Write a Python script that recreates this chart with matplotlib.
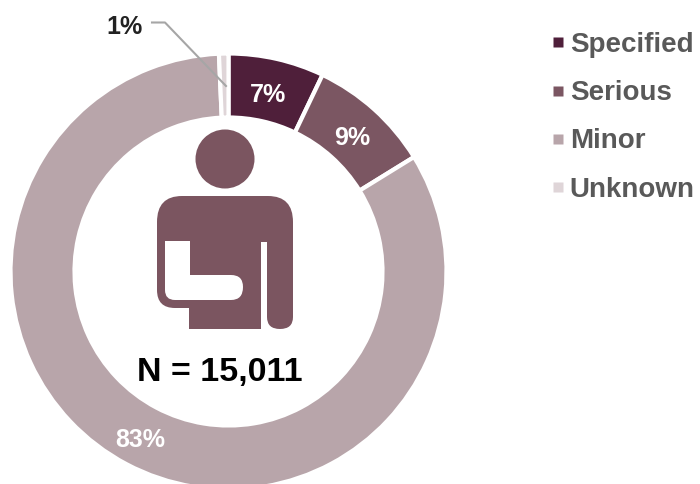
import matplotlib
matplotlib.use("Agg")
import matplotlib.pyplot as plt
from matplotlib.lines import Line2D
from matplotlib.patches import Circle, PathPatch, Rectangle
from matplotlib.path import Path

plt.rcParams["font.family"] = ["Liberation Sans", "DejaVu Sans"]

categories = ["Specified", "Serious", "Minor", "Unknown"]
values = [7.1, 9.1, 83.1, 0.7]
value_labels = ["7%", "9%", "83%", "1%"]
colors = ["#4f1f3a", "#7b5662", "#b8a5aa", "#dfd5d8"]
total_label = "N = 15,011"

fig = plt.figure(figsize=(7, 4.84), dpi=100)
ax = fig.add_axes([0, 0, 1, 1])

# axes in image pixels, y pointing down, so angles run clockwise
wedges, _ = ax.pie(values, colors=colors, center=(228.5, 271.5), radius=218,
                   startangle=-90, counterclock=True, frame=True,
                   wedgeprops=dict(width=64, edgecolor="white", linewidth=3))
ax.set_xlim(0, 700)
ax.set_ylim(484, 0)
ax.set_aspect("equal")
ax.axis("off")

# value labels
label_pos = [(268, 95), (352, 138), (140, 440)]
for lab, (x, y) in zip(value_labels[:3], label_pos):
    ax.text(x, y, lab, color="white", fontsize=18, fontweight="bold",
            ha="center", va="center")
ax.text(124, 27, value_labels[3], color="#222222", fontsize=18, fontweight="bold",
        ha="center", va="center")
ax.plot([152, 165, 226], [22.5, 22.5, 86], color="#a6a6a6", lw=1.5, zorder=5)

# person icon
body_color = "#7b5560"
ax.add_patch(Circle((225, 159), 29.5, color=body_color, lw=0))
M, L, C = Path.MOVETO, Path.LINETO, Path.CURVE3
body = Path(
    [(182, 196), (268, 196), (293, 196), (293, 222), (293, 317), (293, 329), (280, 329),
     (267, 329), (267, 317), (267, 329), (189, 329), (189, 308), (175, 308), (157, 308),
     (157, 290), (157, 222), (157, 196), (182, 196), (182, 196)],
    [M, L, C, C, L, C, C, C, C, L, L, L, L, C, C, L, C, C, L],
)
ax.add_patch(PathPatch(body, facecolor=body_color, edgecolor="none"))
arm = Path(
    [(165, 241), (190, 241), (190, 275), (231, 275), (243, 275), (243, 287), (243, 300),
     (231, 300), (175, 300), (165, 300), (165, 290), (165, 241)],
    [M, L, L, L, C, C, C, C, L, C, C, L],
)
ax.add_patch(PathPatch(arm, facecolor="white", edgecolor="none"))
ax.add_patch(Rectangle((260.5, 242), 6.5, 88, facecolor="white", edgecolor="none"))

ax.text(220, 372, total_label, color="black", fontsize=24.5, fontweight="bold",
        ha="center", va="center")

# legend
handles = [Line2D([], [], linestyle="none", marker="s", markersize=7,
                  markerfacecolor=c, markeredgecolor="none") for c in colors]
leg = ax.legend(handles, categories, loc="upper left", bbox_to_anchor=(544, 32),
                bbox_transform=ax.transData, frameon=False, fontsize=20,
                labelcolor="#595959", labelspacing=0.8, handletextpad=-0.07,
                handlelength=1.0, borderpad=0, borderaxespad=0)
for t in leg.get_texts():
    t.set_fontweight("bold")

fig.savefig("out.png", dpi=100)
